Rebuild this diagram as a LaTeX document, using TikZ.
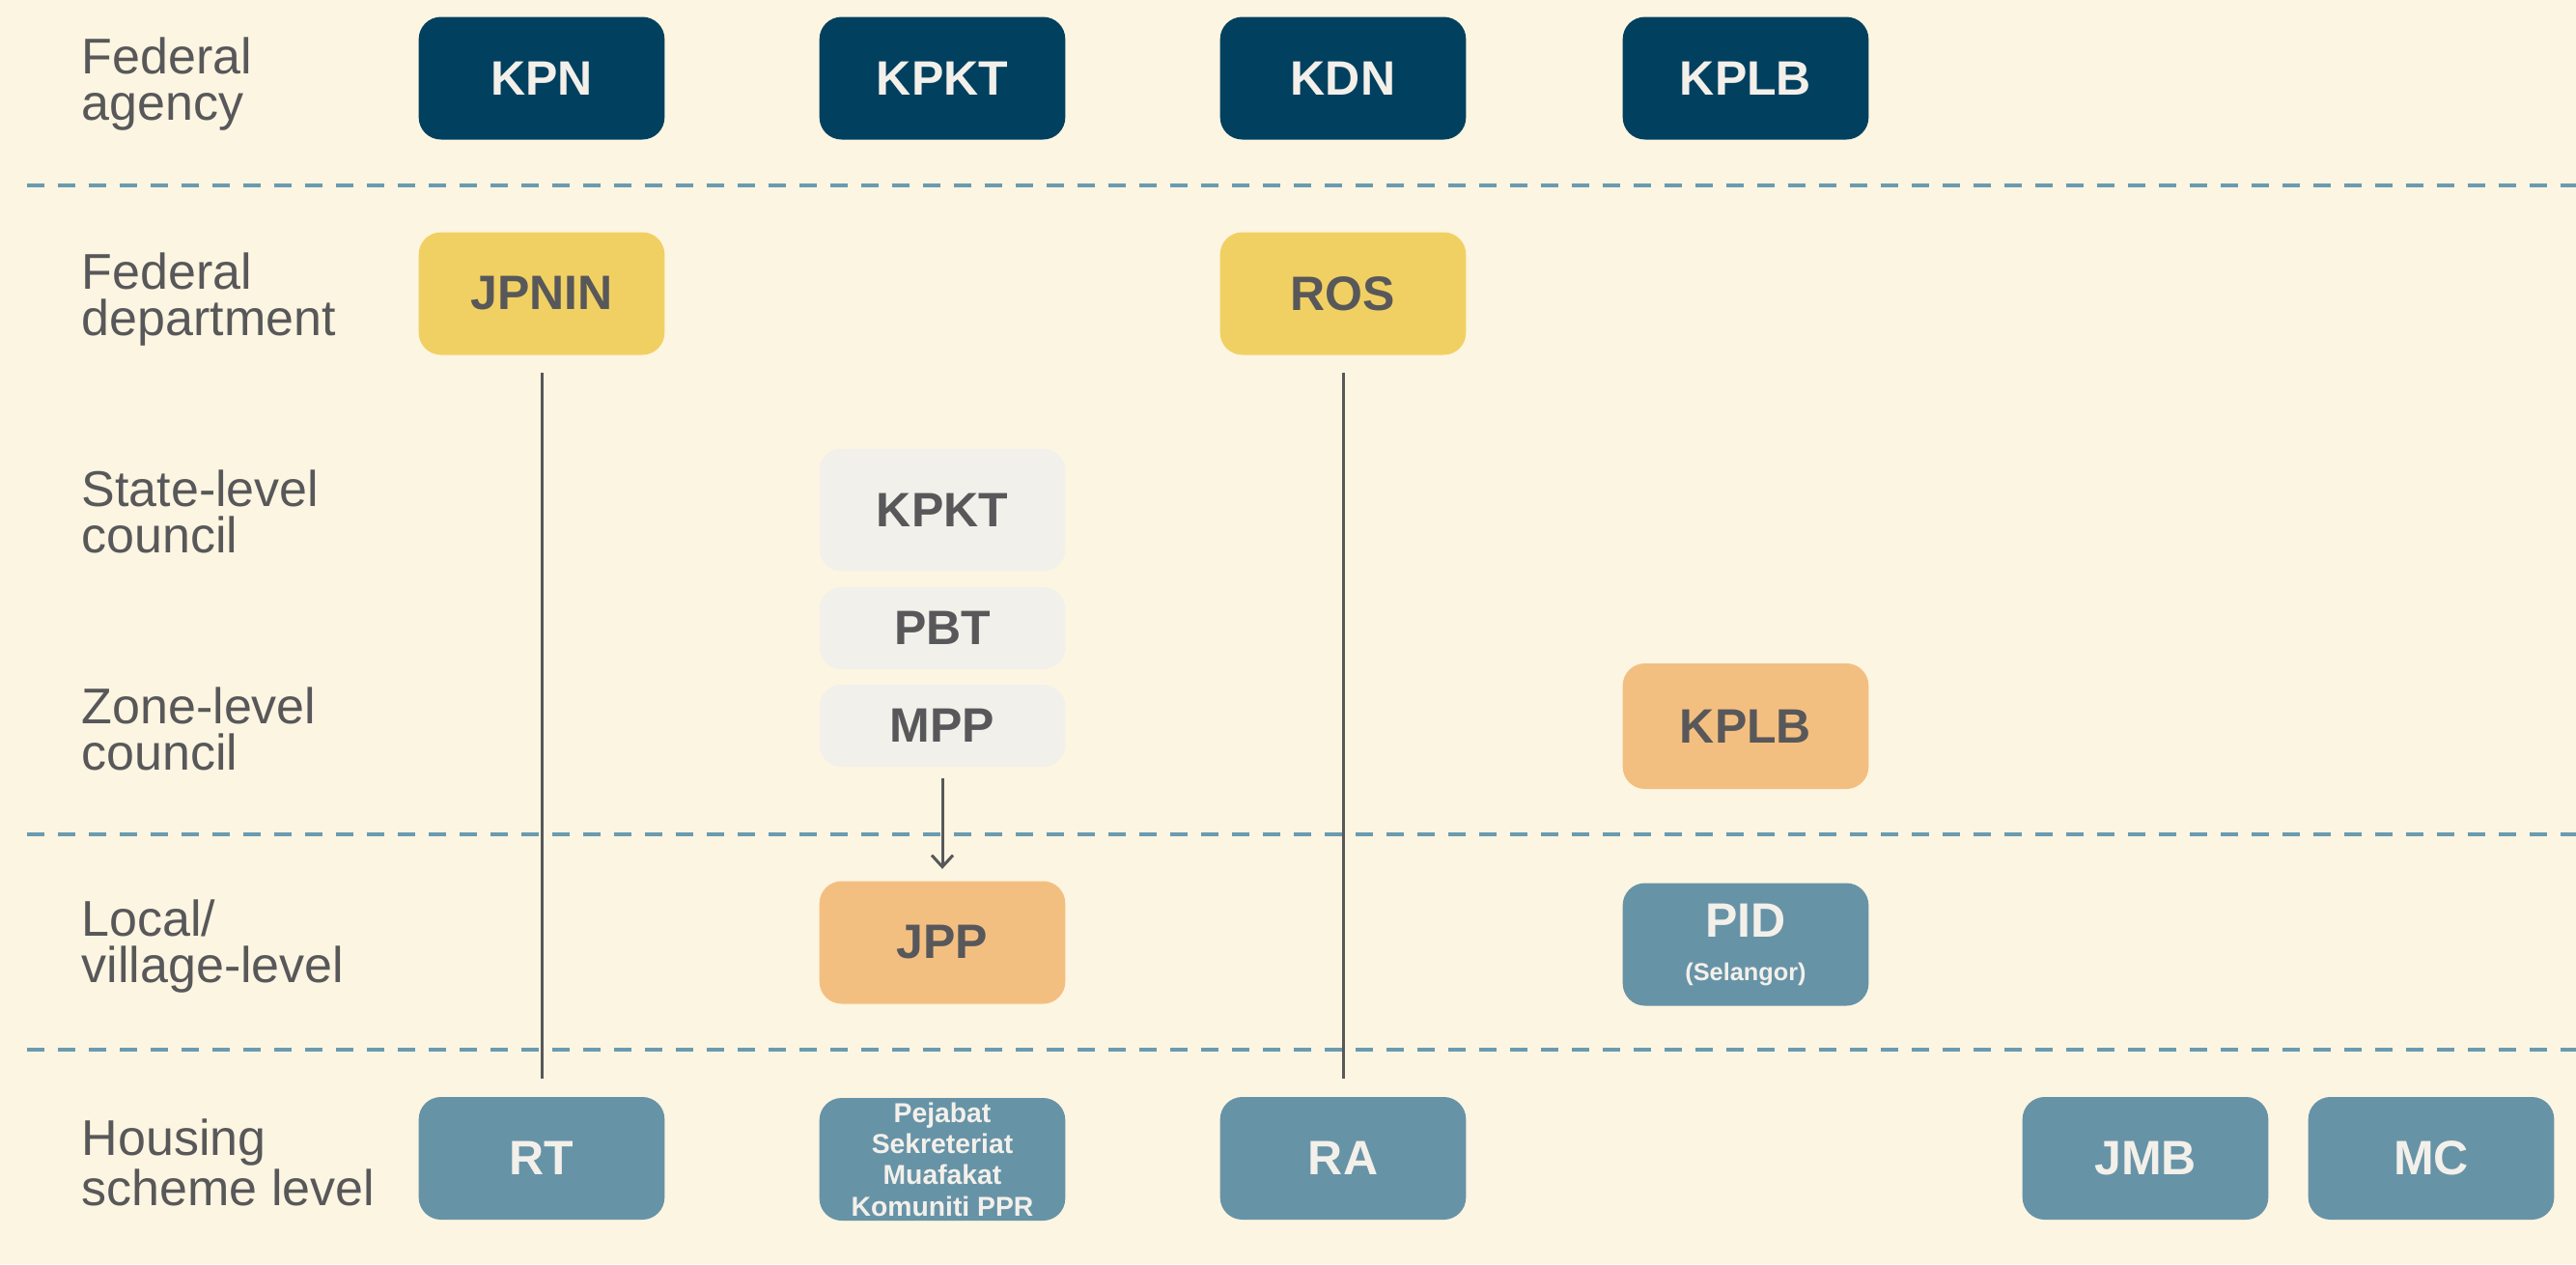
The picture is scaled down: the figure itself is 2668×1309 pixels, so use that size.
\documentclass[tikz,border=0pt]{standalone}
\usepackage{fontspec}
\setmainfont{Liberation Sans}
\usetikzlibrary{arrows.meta}
\definecolor{bgc}{HTML}{FCF5E1}
\definecolor{navy}{HTML}{01405F}
\definecolor{ylw}{HTML}{F1D063}
\definecolor{lgrey}{HTML}{F1F0EA}
\definecolor{orng}{HTML}{F3BF81}
\definecolor{teal}{HTML}{6793A7}
\definecolor{offw}{HTML}{F3F0EA}
\definecolor{dgrey}{HTML}{58585A}
\definecolor{dashc}{HTML}{6A9BB0}
\begin{document}
\begin{tikzpicture}[x=0.3pt,y=-0.3pt,
  box/.style={rounded corners=6.9pt, minimum width=76.4pt, minimum height=38.1pt,
    inner sep=0pt, align=center, font=\bfseries\fontsize{15}{15}\selectfont},
  navybox/.style={box, fill=navy, text=offw},
  ylwbox/.style={box, fill=ylw, text=dgrey},
  greybox/.style={box, fill=lgrey, text=dgrey},
  orngbox/.style={box, fill=orng, text=dgrey},
  tealbox/.style={box, fill=teal, text=offw},
  lvl/.style={anchor=west, align=left, inner sep=0pt, text=dgrey,
    font=\fontsize{15.6}{14.4}\selectfont},
  sep/.style={draw=dashc, line width=1.2pt, dash pattern=on 5.4pt off 4.2pt},
  link/.style={draw=dgrey, line width=0.9pt, shorten <=5.4pt, shorten >=5.4pt},
  arr/.style={draw=dgrey, line width=0.9pt, shorten <=3.3pt, shorten >=3.6pt,
    -{Straight Barb[length=3.6pt,width=6.6pt,line width=0.9pt]}}
]
\fill[bgc] (0,0) rectangle (2668,1309);
\useasboundingbox (0,0) rectangle (2668,1309);

% separators
\coordinate (s1a) at (28,192);  \coordinate (s1b) at (2668,192);
\coordinate (s2a) at (28,864);  \coordinate (s2b) at (2668,864);
\coordinate (s3a) at (28,1087); \coordinate (s3b) at (2668,1087);
\draw[sep] (s1a) -- (s1b);
\draw[sep] (s2a) -- (s2b);
\draw[sep] (s3a) -- (s3b);

% level labels
\node[lvl] (l1) at (84,87) {Federal\\agency};
\node[lvl] (l2) at (84,310) {Federal\\department};
\node[lvl] (l3) at (84,530) {State-level\\council};
\node[lvl] (l4) at (84,755) {Zone-level\\council};
\node[lvl] (l5) at (84,980) {Local/\\village-level};
\node[lvl] (l6) at (84,1204) {Housing\\scheme level};

% federal agency
\node[navybox] (kpn)  at (561,81)  {KPN};
\node[navybox] (kpkt) at (976,81)  {KPKT};
\node[navybox] (kdn)  at (1391,81) {KDN};
\node[navybox] (kplb) at (1808,81) {KPLB};

% federal department
\node[ylwbox] (jpnin) at (561,304)  {JPNIN};
\node[ylwbox] (ros)   at (1391,304) {ROS};

% state / zone
\node[greybox] (skpkt) at (976,528) {KPKT};
\node[greybox, minimum height=25.5pt] (pbt) at (976,650.5) {PBT};
\node[greybox, minimum height=25.5pt] (mpp) at (976,751.5) {MPP};
\node[orngbox, minimum height=39pt] (zkplb) at (1808,752) {KPLB};

% local
\node[orngbox] (jpp) at (976,976) {JPP};
\node[tealbox] (pid) at (1808,978) {PID\\[-1.5pt]{\fontsize{7.6}{9}\selectfont (Selangor)}};

% housing scheme
\node[tealbox] (rt) at (561,1199.5) {RT};
\node[tealbox, font=\bfseries\fontsize{8.5}{9.7}\selectfont] (pej) at (976,1200.5)
  {Pejabat\\Sekreteriat\\Muafakat\\Komuniti PPR};
\node[tealbox] (ra)  at (1391,1199.5) {RA};
\node[tealbox] (jmb) at (2222,1199.5) {JMB};
\node[tealbox] (mc)  at (2518,1199.5) {MC};

% connectors
\draw[link] (jpnin.south) -- (rt.north);
\draw[link] (ros.south) -- (ra.north);
\draw[arr] (mpp.south) -- (jpp.north);
\end{tikzpicture}
\end{document}
